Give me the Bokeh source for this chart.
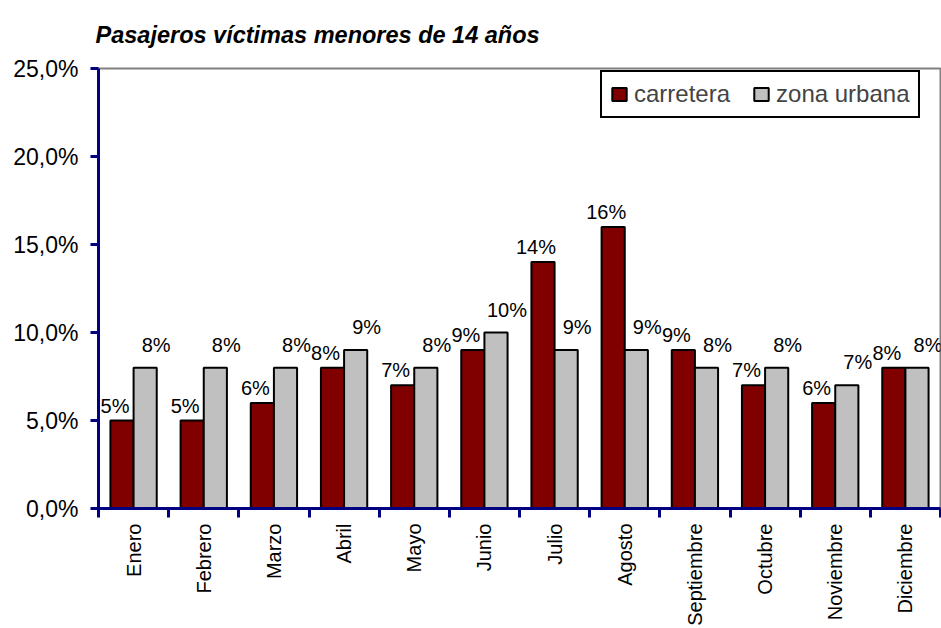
import math
import numpy as np
from bokeh.plotting import figure
from bokeh.models import ColumnDataSource, FixedTicker, Legend, LegendItem, Range1d
from bokeh.core.properties import value
from bokeh.embed import file_html
from bokeh.resources import INLINE

months = ["Enero", "Febrero", "Marzo", "Abril", "Mayo", "Junio", "Julio",
          "Agosto", "Septiembre", "Octubre", "Noviembre", "Diciembre"]
carretera = [5, 5, 6, 8, 7, 9, 14, 16, 9, 7, 6, 8]
urbana = [8, 8, 8, 9, 8, 10, 9, 9, 8, 8, 7, 8]
y_ticks = [0, 5, 10, 15, 20, 25]
y_tick_labels = ["0,0%", "5,0%", "10,0%", "15,0%", "20,0%", "25,0%"]
title_text = "Pasajeros víctimas menores de 14 años"

FONT = "Liberation Sans"
NAVY = "#000080"
RED = "#800000"
GREY = "#C0C0C0"

p = figure(width=941, height=628, output_backend="svg", toolbar_location=None,
           x_range=Range1d(0, 12), y_range=Range1d(0, 25),
           min_border_left=98, min_border_right=1, min_border_top=68,
           min_border_bottom=120)
p.background_fill_color = "white"
p.border_fill_color = "white"
p.outline_line_color = "#808080"
p.outline_line_width = 2
p.xgrid.visible = False
p.ygrid.visible = False

p.title.text = title_text
p.title.text_font = FONT
p.title.text_font_style = "bold italic"
p.title.text_font_size = "23.5px"
p.title.text_color = "black"
p.title.align = "left"
p.title.vertical_align = "top"
p.title.offset = -3
p.title.standoff = 38

n = len(months)
centers = np.arange(n) + 0.5
w = 0.33
src_c = ColumnDataSource(dict(x=centers - w / 2, top=carretera,
                              lbl=[f"{v}%" for v in carretera]))
src_u = ColumnDataSource(dict(x=centers + w / 2, top=urbana,
                              lbl=[f"{v}%" for v in urbana]))

r_c = p.vbar(x="x", top="top", width=w, source=src_c, fill_color=RED,
             line_color="black", line_width=2)
r_u = p.vbar(x="x", top="top", width=w, source=src_u, fill_color=GREY,
             line_color="black", line_width=2)

p.text(x="x", y="top", text="lbl", source=src_c, text_font=value(FONT),
       text_font_size="20px", text_align="center", text_baseline="bottom",
       x_offset=-7, y_offset=-4, text_color="black")
p.text(x="x", y="top", text="lbl", source=src_u, text_font=value(FONT),
       text_font_size="20px", text_align="center", text_baseline="bottom",
       x_offset=11, y_offset=-12, text_color="black")

# Y axis
ya = p.yaxis[0]
ya.ticker = FixedTicker(ticks=y_ticks)
ya.major_label_overrides = {t: s for t, s in zip(y_ticks, y_tick_labels)}
ya.axis_line_color = NAVY
ya.axis_line_width = 3
ya.major_tick_line_color = NAVY
ya.major_tick_line_width = 3
ya.major_tick_in = 0
ya.major_tick_out = 8
ya.minor_tick_line_color = None
ya.major_label_text_font = FONT
ya.major_label_text_font_size = "23px"
ya.major_label_text_color = "black"
ya.major_label_standoff = 12

# X axis
xa = p.xaxis[0]
xa.ticker = FixedTicker(ticks=list(centers), minor_ticks=list(range(n + 1)))
xa.major_label_overrides = {float(c): m for c, m in zip(centers, months)}
xa.major_label_orientation = math.pi / 2
xa.axis_line_color = NAVY
xa.axis_line_width = 3
xa.major_tick_line_color = None
xa.major_tick_in = 0
xa.major_tick_out = 9
xa.minor_tick_line_color = NAVY
xa.minor_tick_line_width = 3
xa.minor_tick_in = 0
xa.minor_tick_out = 9
xa.major_label_text_font = FONT
xa.major_label_text_font_size = "20px"
xa.major_label_text_color = "black"
xa.major_label_standoff = 6

legend = Legend(items=[LegendItem(label="carretera", renderers=[r_c]),
                       LegendItem(label="zona urbana", renderers=[r_u])],
                orientation="horizontal", location=(502, 390),
                label_text_font=FONT, label_text_font_size="24px",
                glyph_width=18, glyph_height=16, label_standoff=6,
                spacing=22, padding=8, margin=0,
                border_line_color="black", border_line_width=2,
                border_line_alpha=1.0,
                background_fill_color="white", background_fill_alpha=1)
p.add_layout(legend, "center")

with open("out.html", "w") as f:
    f.write(file_html(p, INLINE))
